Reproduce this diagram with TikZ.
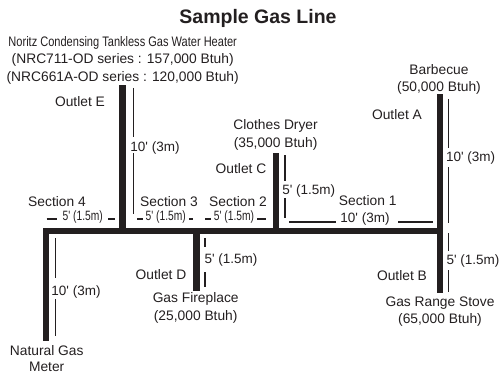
\documentclass[tikz,border=0pt]{standalone}
\usepackage{fontspec}
\newfontfamily\gasfont{Liberation Sans}
\definecolor{ink}{HTML}{231F20}
\newcommand{\narrowtxt}[2][0.8]{\scalebox{#1}[1]{#2}}
\tikzset{
  pipe/.style={draw=ink,line width=6.5pt},
  dimline/.style={draw=ink,line width=1.4pt},
  txt/.style={text=ink,inner sep=0pt,align=center,yshift=-1pt,font=\gasfont\fontsize{13.8}{17.8}\selectfont},
  dimtxt/.style={txt,font=\gasfont\fontsize{13.5}{14}\selectfont}
}
\begin{document}
\begin{tikzpicture}[x=1pt,y=-1pt]
  \useasboundingbox (0,0) rectangle (502,374);
  %junctions on the main line
  \coordinate (M) at (46,231);
  \coordinate (E) at (122.5,231);
  \coordinate (D) at (196.5,231);
  \coordinate (C) at (276,231);
  \coordinate (AB) at (440,231);
  %free ends
  \coordinate (meter) at (46,341);
  \coordinate (Etop) at (122.5,85);
  \coordinate (Dend) at (196.5,291);
  \coordinate (Ctop) at (276,153);
  \coordinate (Atop) at (440,94);
  \coordinate (Bend) at (440,293);
  %PIPES
  \draw[pipe,line cap=rect] (M) -- (AB);
  \draw[pipe] (M) -- (meter);
  \draw[pipe] (E) -- (Etop);
  \draw[pipe] (D) -- (Dend);
  \draw[pipe] (C) -- (Ctop);
  \draw[pipe] (AB) -- (Atop);
  \draw[pipe] (AB) -- (Bend);
  %DIMENSION LINES
  \draw[dimline] (55.3,238) -- (55.3,278) (55.3,299) -- (55.3,336);
  \draw[dimline] (133.3,88) -- (133.3,137) (133.3,153) -- (133.3,214);
  \draw[dimline] (205,238) -- (205,247) (205,272) -- (205,287);
  \draw[dimline] (285,155) -- (285,181) (285,198) -- (285,218);
  \draw[dimline] (448.7,99) -- (448.7,148) (448.7,167) -- (448.7,223);
  \draw[dimline] (448.7,233) -- (448.7,251) (448.7,270) -- (448.7,292);
  \draw[dimline] (46.7,219) -- (56.7,219) (108,219) -- (115,219);
  \draw[dimline] (137,219) -- (142.7,219) (189,219) -- (193,219);
  \draw[dimline] (205,219) -- (210.7,219) (257,219) -- (265.7,219);
  \draw[dimline] (289,222) -- (336,222) (398,222) -- (433,222);
  %TEXTS
  \node[txt,font=\gasfont\bfseries\fontsize{19.5}{22}\selectfont] (title) at (258,17.5) {Sample Gas Line};
  \node[txt] (heaterA) at (122.7,42) {\narrowtxt[0.8]{Noritz Condensing Tankless Gas Water Heater}};
  \node[txt] (heaterB) at (122.7,59) {(NRC711-OD series : 157,000 Btuh)};
  \node[txt] (heaterC) at (122.7,76.7) {(NRC661A-OD series : 120,000 Btuh)};
  \node[txt] (outE) at (80,101) {Outlet E};
  \node[txt] (outA) at (397,114) {Outlet A};
  \node[txt] (outC) at (241,168) {Outlet C};
  \node[txt] (outD) at (161,274) {Outlet D};
  \node[txt] (outB) at (402,275) {Outlet B};
  \node[txt] (barbecue) at (439,78.5) {Barbecue\\(50,000 Btuh)};
  \node[txt] (dryer) at (275.6,134.2) {Clothes Dryer\\(35,000 Btuh)};
  \node[txt] (fireplace) at (195.7,307.2) {Gas Fireplace\\(25,000 Btuh)};
  \node[txt] (stove) at (440,310.7) {Gas Range Stove\\(65,000 Btuh)};
  \node[txt] (gasmeter) at (46.7,357.5) {Natural Gas\\[-1.5pt]Meter};
  \node[txt] (sec4) at (57,201) {Section 4};
  \node[txt] (sec3) at (169,201) {Section 3};
  \node[txt] (sec2) at (238,201) {Section 2};
  \node[txt] (sec1) at (367.7,200) {Section 1};
  \node[dimtxt] (lenM) at (76,290.7) {10' (3m)};
  \node[dimtxt] (lenE) at (155,146.7) {10' (3m)};
  \node[dimtxt] (lenA) at (470.7,157) {10' (3m)};
  \node[dimtxt] (lenS1) at (365,218) {10' (3m)};
  \node[dimtxt] (lenD) at (231,259) {5' (1.5m)};
  \node[dimtxt] (lenC) at (308.7,190) {5' (1.5m)};
  \node[dimtxt] (lenB) at (473,260) {5' (1.5m)};
  \node[dimtxt] (lenS4) at (82.7,216) {\narrowtxt[0.76]{5' (1.5m)}};
  \node[dimtxt] (lenS3) at (165.7,216) {\narrowtxt[0.76]{5' (1.5m)}};
  \node[dimtxt] (lenS2) at (234,216) {\narrowtxt[0.76]{5' (1.5m)}};
\end{tikzpicture}
\end{document}
